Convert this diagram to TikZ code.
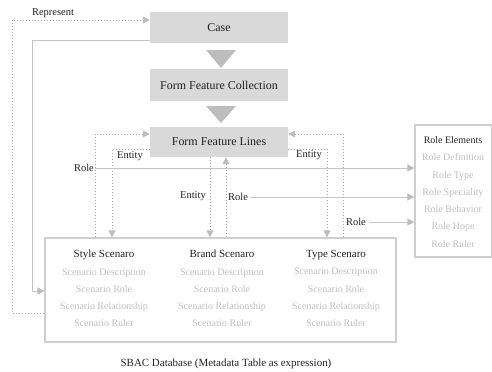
\documentclass[tikz,border=0pt]{standalone}
\usepackage{fontspec}
\setmainfont{Liberation Serif}
\usetikzlibrary{arrows.meta}

\definecolor{boxgray}{HTML}{D9D9D9}
\definecolor{framegray}{HTML}{CFCFCF}
\definecolor{linegray}{HTML}{A8A8A8}
\definecolor{solidgray}{HTML}{C4C4C4}
\definecolor{tipgray}{HTML}{BDBDBD}
\definecolor{itemgray}{HTML}{BEBEBE}
\definecolor{textdark}{HTML}{222222}

\begin{document}
\begin{tikzpicture}[x=1bp, y=-1bp,
    font=\fontsize{10.5}{12}\selectfont, text=textdark,
    stage/.style={fill=boxgray, minimum width=138bp, inner sep=0pt, font=\fontsize{12}{14}\selectfont},
    frame/.style={draw=framegray, line width=1.2bp, inner sep=0pt},
    items/.style={align=center, text=itemgray, font=\fontsize{10}{17.3}\selectfont},
    dotarrow/.style={draw=linegray, line width=0.8bp, dash pattern=on 1.2bp off 1.8bp,
        -{Triangle[length=7bp,width=7bp,color=tipgray]}},
    solidarrow/.style={draw=solidgray, line width=0.9bp,
        -{Triangle[length=7bp,width=7bp,color=tipgray]}}]
    \useasboundingbox (0,0) rectangle (492,371);

    % Stages
    \node[stage, minimum height=31bp] (case) at (219,27.5) {Case};
    \node[stage, minimum height=32bp] (ffc) at (219,85) {Form Feature Collection};
    \node[stage, minimum height=30bp] (ffl) at (219,142) {Form Feature Lines};

    % Big arrows between stages
    \fill[tipgray] (206,50) -- (236,50) -- (221,68) -- cycle;
    \fill[tipgray] (206,106) -- (236,106) -- (221,123) -- cycle;

    % Database
    \node[frame, minimum width=351bp, minimum height=104bp] (db) at (220.5,290) {};
    \node[items] (style) at (104,288.5) {{\fontsize{11}{17.3}\selectfont\color{textdark}Style Scenaro}\\Scenario Description\\Scenario Role\\Scenario Relationship\\Scenario Ruler};
    \node[items] (brand) at (222,288.5) {{\fontsize{11}{17.3}\selectfont\color{textdark}Brand Scenaro}\\Scenario Description\\Scenario Role\\Scenario Relationship\\Scenario Ruler};
    \node[items] (type) at (336,288.5) {{\fontsize{11}{17.3}\selectfont\color{textdark}Type Scenaro}\\Scenario Description\\Scenario Role\\Scenario Relationship\\Scenario Ruler};
    \node[font=\fontsize{11}{13}\selectfont] (caption) at (226,364) {SBAC Database (Metadata Table as expression)};

    % Role elements
    \node[frame, minimum width=77bp, minimum height=132bp] (roles) at (453.5,191) {};
    \node[items] (rolelist) at (453,192) {{\color{textdark}Role Elements}\\Role Definition\\Role Type\\Role Speciality\\Role Behavior\\Role Hope\\Role Ruler};

    % Represent loop
    \coordinate (repA) at (12,313);
    \coordinate (repB) at (12,20);
    \draw[dotarrow] (repA -| db.west) -- (repA) -- (repB) -- (repB -| case.west);
    \node (represent) at (53,13) {Represent};

    % Case back to database
    \coordinate (casA) at (32,40);
    \coordinate (casB) at (32,291);
    \draw[solidarrow] (casA -| case.west) -- (casA) -- (casB) -- (casB -| db.west);

    % Style scenario
    \coordinate (roleA) at (95,134);
    \coordinate (entA) at (112,149);
    \draw[dotarrow] (roleA |- db.north) -- (roleA) -- (roleA -| ffl.west);
    \draw[dotarrow] (entA -| ffl.west) -- (entA) -- (entA |- db.north);
    \node (entLblA) at (130,156) {Entity};
    \node[left, inner sep=1bp] (roleLblA) at (95,168) {Role};

    % Brand scenario
    \coordinate (entB) at (210,197);
    \coordinate (roleB) at (226,197);
    \draw[dotarrow] (entB |- ffl.south) -- (entB |- db.north);
    \draw[dotarrow] (roleB |- db.north) -- (roleB |- ffl.south);
    \node (entLblB) at (193,196) {Entity};
    \node[right, inner sep=2bp] (roleLblB) at (226,197) {Role};

    % Type scenario
    \coordinate (entC) at (327,149);
    \coordinate (roleC) at (343,134);
    \draw[dotarrow] (entC -| ffl.east) -- (entC) -- (entC |- db.north);
    \draw[dotarrow] (roleC |- db.north) -- (roleC) -- (roleC -| ffl.east);
    \node (entLblC) at (309,155) {Entity};
    \node (roleLblC) at (356,222) {Role};

    % Roles into role elements
    \draw[solidarrow] (roleLblA.east) -- (roleLblA.east -| roles.west);
    \draw[solidarrow] (roleLblB.east) -- (roleLblB.east -| roles.west);
    \draw[solidarrow] (roleLblC.east) -- (roleLblC.east -| roles.west);
\end{tikzpicture}
\end{document}
